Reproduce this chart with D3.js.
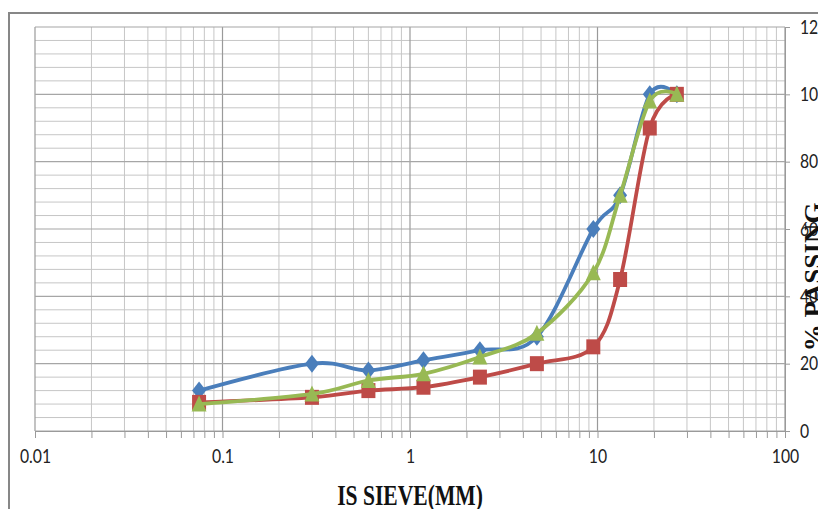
<!DOCTYPE html>
<html lang="en">

<head>
   <meta charset="UTF-8">
   <title>Sieve analysis</title>
   <script src="https://d3js.org/d3.v7.min.js"></script>
   <style>
      body { margin: 0; background: #fff; }
      svg { display: block; }
   </style>
</head>

<body>
   <script>

      // sieve sizes (mm) and % passing for the three gradings
      const sieves = [0.075, 0.3, 0.6, 1.18, 2.36, 4.75, 9.5, 13.2, 19, 26.5];
      const blueSeries = [12, 20, 18, 21, 24, 28, 60, 70, 100, 100];
      const redSeries = [8.5, 10, 12, 13, 16, 20, 25, 45, 90, 100];
      const greenSeries = [8, 11, 15, 17, 22, 29, 47, 70, 98, 100];

      const xTickLabels = [0.01, 0.1, 1, 10, 100];
      const yTickLabels = [0, 20, 40, 60, 80, 100, 120];

      const W = 818, H = 509;
      const svg = d3.select('body').append('svg').attr('width', W).attr('height', H);

      // outer chart frame (only left and top edges show in the crop)
      svg.append('path')
         .attr('d', `M9,${H} L9,13 L${W},13`)
         .attr('fill', 'none')
         .attr('stroke', '#878787')
         .attr('stroke-width', 2);

      const x = d3.scaleLog().domain([0.01, 100]).range([35, 785]);
      const y = d3.scaleLinear().domain([0, 120]).range([431, 27]);

      // grid values
      const minorX = [];
      for (let p = -2; p < 2; p++) {
         for (let k = 2; k <= 9; k++) minorX.push(k * Math.pow(10, p));
      }
      const minorY = d3.range(0, 121, 4).filter(v => v % 20 !== 0);

      const grid = svg.append('g');
      grid.selectAll('.vmin').data(minorX).enter().append('line')
         .attr('x1', d => x(d)).attr('x2', d => x(d))
         .attr('y1', y(120)).attr('y2', y(0))
         .attr('stroke', '#c6c6c6').attr('stroke-width', 1);
      grid.selectAll('.hmin').data(minorY).enter().append('line')
         .attr('x1', x(0.01)).attr('x2', x(100))
         .attr('y1', d => y(d)).attr('y2', d => y(d))
         .attr('stroke', '#c6c6c6').attr('stroke-width', 1);
      grid.selectAll('.vmaj').data(xTickLabels).enter().append('line')
         .attr('x1', d => x(d)).attr('x2', d => x(d))
         .attr('y1', y(120)).attr('y2', y(0))
         .attr('stroke', '#9a9a9a').attr('stroke-width', 1.2);
      grid.selectAll('.hmaj').data(yTickLabels).enter().append('line')
         .attr('x1', x(0.01)).attr('x2', x(100))
         .attr('y1', d => y(d)).attr('y2', d => y(d))
         .attr('stroke', '#a6a6a6').attr('stroke-width', 1.2);

      // bottom axis: ticks at every grid line, labels only at decades
      const xAxis = d3.axisBottom(x)
         .tickValues(xTickLabels.concat(minorX))
         .tickSize(7)
         .tickPadding(12)
         .tickFormat(d => xTickLabels.includes(d) ? String(d) : '');
      const gx = svg.append('g').attr('transform', `translate(0,${y(0)})`).call(xAxis);
      gx.select('.domain').attr('stroke', '#9a9a9a');
      gx.selectAll('line').attr('stroke', '#9a9a9a');
      gx.selectAll('text')
         .attr('font-family', 'Lato, sans-serif')
         .attr('font-size', 19)
         .attr('fill', '#222')
         .attr('transform', 'scale(0.83,1)');

      // right axis (labels run off the edge, as in the original)
      const yAxis = d3.axisRight(y).tickValues(yTickLabels).tickSize(5).tickFormat(d3.format('d'));
      const gy = svg.append('g').attr('transform', `translate(${x(100)},0)`).call(yAxis);
      gy.select('.domain').attr('stroke', '#9a9a9a');
      gy.selectAll('line').attr('stroke', '#9a9a9a');
      gy.selectAll('text')
         .attr('font-family', 'Lato, sans-serif')
         .attr('font-size', 19)
         .attr('fill', '#222')
         .attr('x', 15 / 0.83)
         .attr('transform', 'scale(0.83,1)');

      // smoothed series like the spreadsheet chart
      const line = d3.line()
         .x(d => x(d[0]))
         .y(d => y(d[1]))
         .curve(d3.curveCardinal.tension(0));

      const diamond = 'M0,-9 L7,0 L0,9 L-7,0 Z';
      const square = 'M-7,-7.5 L7,-7.5 L7,7.5 L-7,7.5 Z';
      const triangle = 'M0,-8.5 L7.5,7.5 L-7.5,7.5 Z';

      const series = [
         { values: blueSeries, color: '#4a7ebb', marker: diamond },
         { values: redSeries, color: '#be4b48', marker: square },
         { values: greenSeries, color: '#98b954', marker: triangle }
      ];

      series.forEach(s => {
         const pts = sieves.map((v, i) => [v, s.values[i]]);
         const g = svg.append('g');
         g.append('path')
            .attr('d', line(pts))
            .attr('fill', 'none')
            .attr('stroke', s.color)
            .attr('stroke-width', 3.8);
         g.selectAll('.mk').data(pts).enter().append('path')
            .attr('transform', d => `translate(${x(d[0])},${y(d[1])})`)
            .attr('d', s.marker)
            .attr('fill', s.color);
      });

      // axis titles
      svg.append('text')
         .attr('transform', 'translate(410,505) scale(0.72,1)')
         .attr('text-anchor', 'middle')
         .attr('font-family', '"Liberation Serif", "DejaVu Serif", serif')
         .attr('font-weight', 'bold')
         .attr('font-size', 30)
         .attr('fill', '#111')
         .text('IS SIEVE(MM)');

      svg.append('text')
         .attr('transform', 'translate(822,277) rotate(-90) scale(1,0.95)')
         .attr('text-anchor', 'middle')
         .attr('font-family', '"Liberation Serif", "DejaVu Serif", serif')
         .attr('font-weight', 'bold')
         .attr('font-size', 27)
         .attr('fill', '#111')
         .text('% PASSING');

   </script>
</body>

</html>
